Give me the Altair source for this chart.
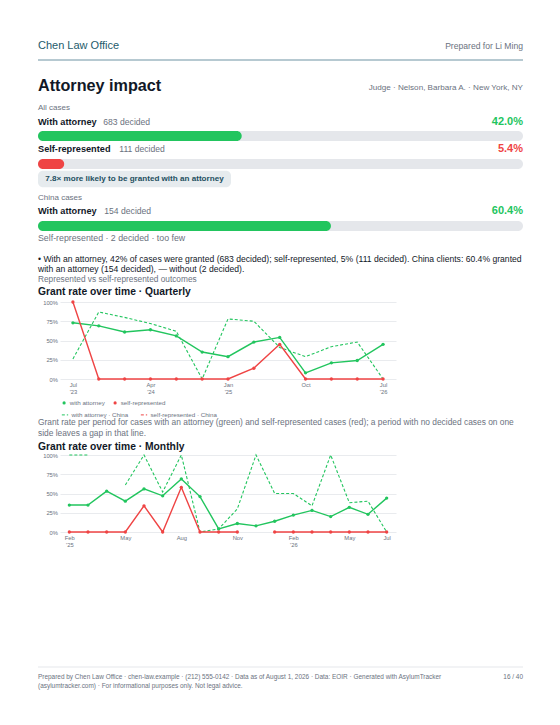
import json
import altair as alt
import pandas as pd

FONT = "Liberation Sans"
GREEN = "#22c55e"
RED = "#ef4444"
TRACK = "#e5e7eb"
GRAY = "#6b7280"
DARK = "#111827"
TEAL = "#245b6b"

# ---------------- text content ----------------
HEADER_LEFT = "Chen Law Office"
HEADER_RIGHT = "Prepared for Li Ming"
TITLE = "Attorney impact"
SUBTITLE = "Judge · Nelson, Barbara A. · New York, NY"
ALL_CASES = "All cases"
CHINA_CASES = "China cases"
ROW_LABELS = ["With attorney", "Self-represented", "With attorney"]
ROW_COUNTS = ["683 decided", "111 decided", "154 decided"]
ROW_RATES = [42.0, 5.4, 60.4]
RATIO_NOTE = "7.8× more likely to be granted with an attorney"
TOO_FEW = "Self-represented · 2 decided · too few"
SUMMARY = [
    "• With an attorney, 42% of cases were granted (683 decided); self-represented, 5% (111 decided). China clients: 60.4% granted",
    "with an attorney (154 decided), — without (2 decided).",
]
SECTION_NOTE = "Represented vs self-represented outcomes"
Q_TITLE = "Grant rate over time · Quarterly"
M_TITLE = "Grant rate over time · Monthly"
CAPTION = [
    "Grant rate per period for cases with an attorney (green) and self-represented cases (red); a period with no decided cases on one",
    "side leaves a gap in that line.",
]
FOOTER = [
    "Prepared by Chen Law Office · chen-law.example · (212) 555-0142 · Data as of August 1, 2026 · Data: EOIR · Generated with AsylumTracker",
    "(asylumtracker.com) · For informational purposes only. Not legal advice.",
]
PAGE_NO = "16 / 40"

SERIES = ["with attorney", "self-represented"]
SERIES_CN = ["with attorney · China", "self-represented · China"]

# ---------------- quarterly series ----------------
Q_PERIODS = ["2023-07", "2023-10", "2024-01", "2024-04", "2024-07", "2024-10", "2025-01",
             "2025-04", "2025-07", "2025-10", "2026-01", "2026-04", "2026-07"]
Q_ATT = [73, 69, 61, 64, 56, 35, 29, 48, 54, 8, 21, 24, 45]
Q_SELF = [100, 0, 0, 0, 0, 0, 0, 14, 45, 0, 0, 0, 0]
Q_ATT_CN = [26, 87, 80, 72, 62, 0, 78, 75, 41, 29, 42, 48, 0]
Q_SELF_CN = [None] * 13
Q_TICKS = ["2023-07", "2024-04", "2025-01", "2025-10", "2026-07"]
Q_TICK_LABELS = [["Jul", "'23"], ["Apr", "'24"], ["Jan", "'25"], ["Oct"], ["Jul", "'26"]]

# ---------------- monthly series ----------------
M_PERIODS = ["2025-02", "2025-03", "2025-04", "2025-05", "2025-06", "2025-07", "2025-08",
             "2025-09", "2025-10", "2025-11", "2025-12", "2026-01", "2026-02", "2026-03",
             "2026-04", "2026-05", "2026-06", "2026-07"]
M_ATT = [35, 35, 53, 40, 56, 47, 69, 46, 4, 11, 8, 14, 22, 28, 20, 32, 23, 44]
M_SELF = [0, 0, 0, 0, 34, 0, 58, 0, 0, 0, None, 0, 0, 0, 0, 0, 0, 0]
M_ATT_CN = [100, 100, None, 61, 100, 52, 100, 0, 4, 30, 100, 50, 50, 34, 100, 38, 40, 0]
M_SELF_CN = [None] * 18
M_TICKS = ["2025-02", "2025-05", "2025-08", "2025-11", "2026-02", "2026-05", "2026-07"]
M_TICK_LABELS = [["Feb", "'25"], ["May"], ["Aug"], ["Nov"], ["Feb", "'26"], ["May"], ["Jul"]]

ONE = alt.Data(values=[{"k": 0}])
L, R = -22, 463
W = 336


def txt(s, x, y, size, color=GRAY, weight="normal", align="left"):
    return alt.Chart(ONE).mark_text(
        text=s, fontSize=size, color=color, fontWeight=weight, align=align,
        baseline="middle", font=FONT,
    ).encode(x=alt.value(x), y=alt.value(y))


def panel(layers, h):
    return alt.layer(*layers).properties(width=W, height=h)


def bar(rate, color):
    xs = alt.Scale(domain=[0, 100], range=[L, R])
    track = alt.Chart(pd.DataFrame({"start": [0], "end": [100]})).mark_rect(
        cornerRadius=5, color=TRACK
    ).encode(x=alt.X("start:Q", scale=xs, axis=None), x2="end:Q",
             y=alt.value(0), y2=alt.value(10))
    val = alt.Chart(pd.DataFrame({"start": [0], "end": [rate]})).mark_rect(
        cornerRadius=5, color=color
    ).encode(x=alt.X("start:Q", scale=xs, axis=None), x2="end:Q",
             y=alt.value(0), y2=alt.value(10))
    return alt.layer(track, val).properties(width=W, height=10)


def label_expr(ticks, labels):
    expr = "''"
    for t, lab in reversed(list(zip(ticks, labels))):
        expr = f"datum.value == '{t}' ? {json.dumps(lab)} : ({expr})"
    return expr


def line_chart(periods, att, self_, att_cn, self_cn, ticks, tick_labels, legends):
    n = len(periods)
    main = pd.DataFrame({"period": periods * 2,
                         "series": [SERIES[0]] * n + [SERIES[1]] * n,
                         "rate": att + self_})
    china = pd.DataFrame({"period": periods * 2,
                          "series": [SERIES_CN[0]] * n + [SERIES_CN[1]] * n,
                          "rate": att_cn + self_cn})
    xenc = alt.X("period:N", sort=periods,
                 scale=alt.Scale(type="point", padding=0.5),
                 axis=alt.Axis(values=ticks, labelExpr=label_expr(ticks, tick_labels),
                               title=None, ticks=False, domain=False, grid=False,
                               labelAngle=0, labelFontSize=5.8, labelColor=GRAY,
                               labelPadding=2, labelLineHeight=7, labelFont=FONT,
                               labelBaseline="top"))
    yenc = alt.Y("rate:Q", scale=alt.Scale(domain=[0, 100]),
                 axis=alt.Axis(values=[0, 25, 50, 75, 100], labelExpr="datum.value + '%'",
                               title=None, ticks=False, domain=False, gridColor="#e9ebee",
                               labelFontSize=5.8, labelColor=GRAY, labelPadding=2.5,
                               labelFont=FONT))
    if legends:
        leg1 = alt.Legend(title=None, orient="none", legendX=1, legendY=97.5,
                          direction="horizontal", symbolType="circle", symbolSize=10,
                          labelFontSize=6.2, labelColor=GRAY, labelFont=FONT,
                          columnPadding=7, padding=0, labelOffset=2.5)
        leg2 = alt.Legend(title=None, orient="none", legendX=1, legendY=108.5,
                          direction="horizontal", symbolType="stroke", symbolSize=40,
                          symbolStrokeWidth=1, labelFontSize=6.2, labelColor=GRAY,
                          labelFont=FONT, columnPadding=9, padding=0, labelOffset=2.5)
    else:
        leg1 = None
        leg2 = None
    line = alt.Chart(main).mark_line(strokeWidth=1.4, invalid="break-paths-filter-domains").encode(
        x=xenc, y=yenc,
        stroke=alt.Stroke("series:N", scale=alt.Scale(domain=SERIES, range=[GREEN, RED]), legend=None),
    )
    pts = alt.Chart(main).mark_point(filled=True, size=11, opacity=1).encode(
        x=xenc, y=yenc,
        fill=alt.Fill("series:N", scale=alt.Scale(domain=SERIES, range=[GREEN, RED]), legend=leg1),
    )
    cn = alt.Chart(china).mark_line(strokeWidth=1.1, invalid="break-paths-filter-domains").encode(
        x=xenc, y=yenc,
        color=alt.Color("series:N", scale=alt.Scale(domain=SERIES_CN, range=[GREEN, RED]), legend=leg2),
        strokeDash=alt.StrokeDash("series:N", scale=alt.Scale(domain=SERIES_CN, range=[[3, 2], [3, 2]]), legend=leg2),
    )
    return alt.layer(cn, line, pts).resolve_scale(
        stroke="independent", fill="independent", color="independent", strokeDash="independent"
    ).properties(width=W, height=77)


def row_texts(i, y, count_x, rate_color):
    return [
        txt(ROW_LABELS[i], L, y, 9.2, DARK, "bold"),
        txt(ROW_COUNTS[i], count_x, y, 8.6, GRAY),
        txt(f"{ROW_RATES[i]:.1f}%", R, y, 11, rate_color, "bold", "right"),
    ]


p_header = panel([
    txt(HEADER_LEFT, L, 15.5, 11, TEAL),
    txt(HEADER_RIGHT, R, 16, 8.6, GRAY, align="right"),
    alt.Chart(ONE).mark_rule(color="#6f93a3", strokeWidth=1.2).encode(
        x=alt.value(L), x2=alt.value(R), y=alt.value(30)),
    txt(TITLE, L, 55.5, 16.2, DARK, "bold"),
    txt(SUBTITLE, R, 57.5, 8.1, GRAY, align="right"),
], 70)

p_all = panel([txt(ALL_CASES, L, 8, 8.0, GRAY)] + row_texts(0, 21.6, 43.3, GREEN), 31)
p_bar1 = bar(ROW_RATES[0], GREEN)
p_lbl2 = panel(row_texts(1, 8.3, 59.3, RED), 18)
p_bar2 = bar(ROW_RATES[1], RED)
p_pill = panel([
    alt.Chart(ONE).mark_rect(cornerRadius=5, color="#e6ebee").encode(
        x=alt.value(L), x2=alt.value(171), y=alt.value(1.7), y2=alt.value(18.3)),
    txt(RATIO_NOTE, -14.7, 10.3, 8.1, "#1e4f5f", "bold"),
    txt(CHINA_CASES, L, 28.8, 8.0, GRAY),
] + row_texts(2, 41.8, 44.3, GREEN), 52)
p_bar3 = bar(ROW_RATES[2], GREEN)
p_text = panel([
    txt(TOO_FEW, L, 6.5, 8.8, GRAY),
    txt(SUMMARY[0], L, 27.5, 8.6, "#111827"),
    txt(SUMMARY[1], L, 38, 8.6, "#111827"),
    txt(SECTION_NOTE, L, 49, 8.3, GRAY),
    txt(Q_TITLE, L, 61, 10.3, DARK, "bold"),
], 71)
p_q = line_chart(Q_PERIODS, Q_ATT, Q_SELF, Q_ATT_CN, Q_SELF_CN, Q_TICKS, Q_TICK_LABELS, True)
p_caption = panel([
    txt(CAPTION[0], L, 43, 8.4, GRAY),
    txt(CAPTION[1], L, 54, 8.4, GRAY),
    txt(M_TITLE, L, 67.5, 10.3, DARK, "bold"),
], 76)
p_m = line_chart(M_PERIODS, M_ATT, M_SELF, M_ATT_CN, M_SELF_CN, M_TICKS, M_TICK_LABELS, False)
p_footer = panel([
    alt.Chart(ONE).mark_rule(color="#e5e7eb", strokeWidth=1).encode(
        x=alt.value(L), x2=alt.value(R), y=alt.value(135)),
    txt(FOOTER[0], L, 144.5, 6.45, GRAY),
    txt(FOOTER[1], L, 153.5, 6.45, GRAY),
    txt(PAGE_NO, R, 144.5, 6.45, GRAY, align="right"),
], 158)

chart = alt.vconcat(
    p_header, p_all, p_bar1, p_lbl2, p_bar2, p_pill, p_bar3, p_text,
    p_q, p_caption, p_m, p_footer,
    spacing=0, bounds="flush",
).resolve_scale(
    x="independent", y="independent", color="independent", fill="independent",
    stroke="independent", strokeDash="independent",
).properties(
    padding={"left": 29, "top": 22, "right": 10, "bottom": 10},
    background="white",
).configure_view(strokeWidth=0)

chart.save("out.html", embed_options={"renderer": "svg", "actions": False})
